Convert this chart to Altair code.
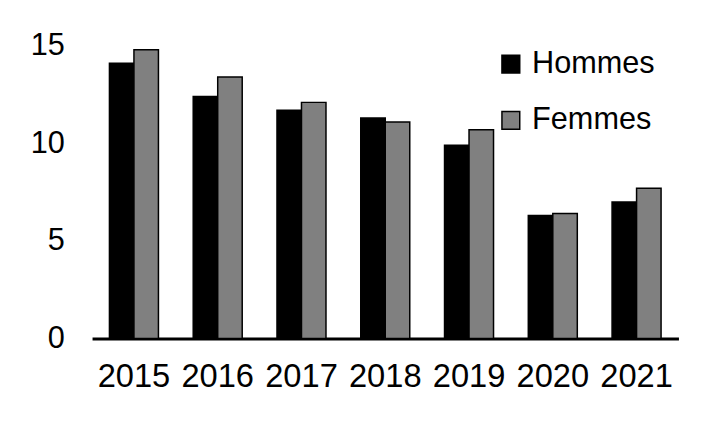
import altair as alt
import pandas as pd

years = ["2015", "2016", "2017", "2018", "2019", "2020", "2021"]
hommes = [14.1, 12.4, 11.7, 11.3, 9.9, 6.3, 7.0]
femmes = [14.8, 13.4, 12.1, 11.1, 10.7, 6.4, 7.7]
series = ["Hommes", "Femmes"]
colors = ["#000000", "#808080"]

rows = []
for y, h, f in zip(years, hommes, femmes):
    rows.append({"annee": y, "sexe": "Hommes", "val": h})
    rows.append({"annee": y, "sexe": "Femmes", "val": f})
df = pd.DataFrame(rows)

FONT = "Liberation Sans"

chart = alt.Chart(df).mark_bar(stroke="#000000", strokeWidth=1.5).encode(
    x=alt.X("annee:N", title=None, sort=years,
            scale=alt.Scale(paddingInner=0.415, paddingOuter=0.2075),
            axis=alt.Axis(labelAngle=0, ticks=False, domainColor="#000000",
                          domainWidth=3, labelFontSize=33, labelColor="#000000",
                          labelPadding=23, labelFont=FONT)),
    xOffset=alt.XOffset("sexe:N", sort=series, scale=alt.Scale(paddingInner=0)),
    y=alt.Y("val:Q", title=None, scale=alt.Scale(domain=[0, 15]),
            axis=alt.Axis(values=[0, 5, 10, 15], ticks=False, domain=False, grid=False,
                          labelFontSize=31, labelColor="#000000", labelPadding=28,
                          labelFont=FONT)),
    color=alt.Color("sexe:N", sort=series,
                    scale=alt.Scale(domain=series, range=colors),
                    legend=alt.Legend(title=None, orient="none", legendX=408, legendY=3,
                                      symbolType="square", symbolSize=324,
                                      symbolStrokeColor="#000000", symbolStrokeWidth=1.5,
                                      labelFontSize=31, labelFont=FONT, labelColor="#000000",
                                      rowPadding=25, labelOffset=6)),
).properties(
    width=593, height=296,
    autosize=alt.AutoSizeParams(type="none"),
    padding={"left": 85, "top": 36, "right": 41, "bottom": 60},
).configure_view(stroke=None)

chart.save("out.html", embed_options={"renderer": "svg", "actions": False})
